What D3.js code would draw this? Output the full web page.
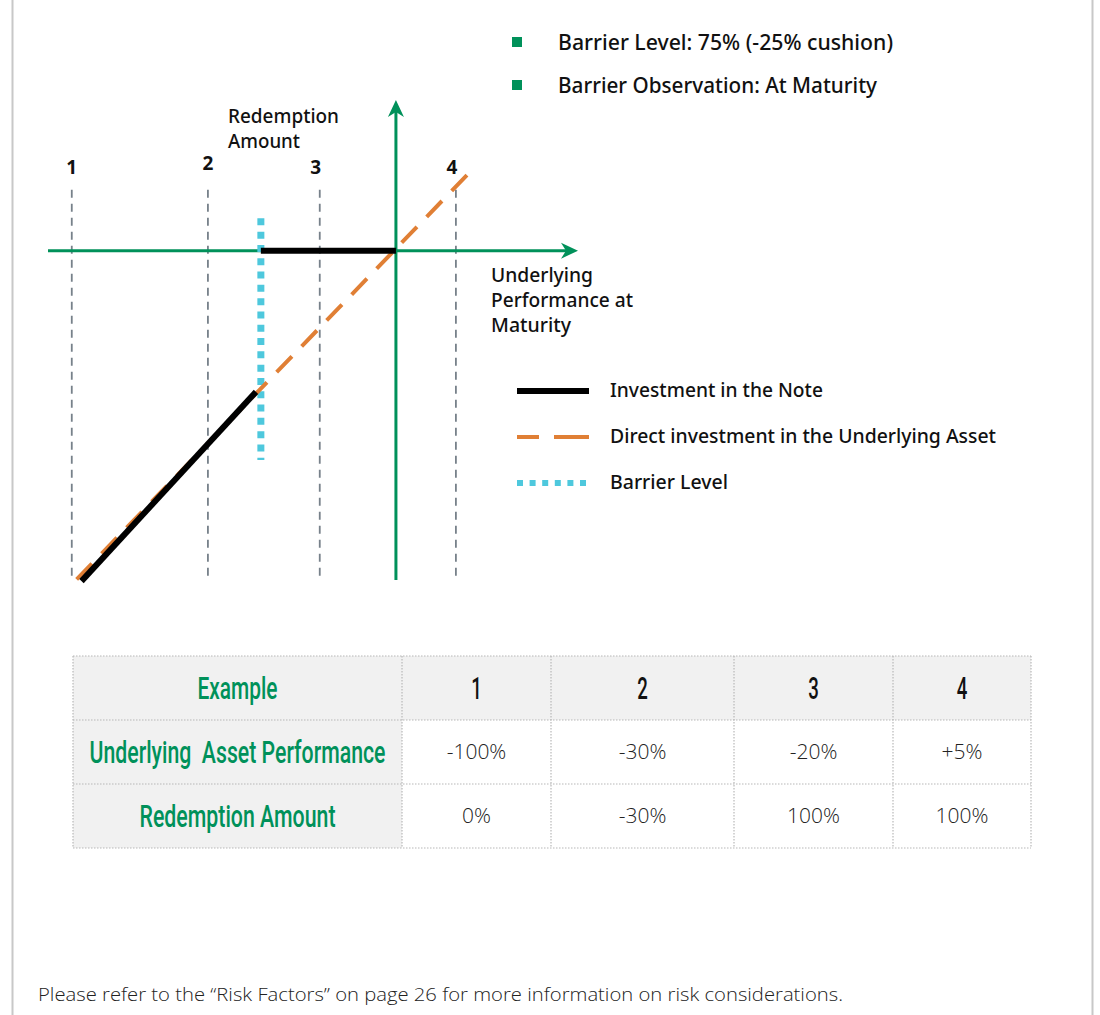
<!DOCTYPE html>
<html>
<head>
<meta charset="utf-8">
<script src="https://cdn.jsdelivr.net/npm/d3@7"></script>
<style>
body { margin: 0; background: #fff; }
svg { display: block; }
</style>
</head>
<body>
<div id="chart"></div>
<script>
// ---------------- data ----------------
var bullets = ["Barrier Level: 75% (-25% cushion)", "Barrier Observation: At Maturity"];
var exampleLabels = ["1", "2", "3", "4"];
var examplePos = [-60, -34.8, -14.1, 11.1];          // schematic spot on the performance axis (%)
var barrierLevel = -25;
var noteLow = [[-58.2, -59.2], [-25.9, -25.3]];      // note payoff below the barrier
var noteFlat = [[-25, 0], [0, 0]];                   // note payoff above the barrier
var directLine = [[-59.1, -58.9], [13.7, 14.1]];     // direct investment
var legendLabels = ["Investment in the Note", "Direct investment in the Underlying Asset", "Barrier Level"];
var tableHeader = ["Example", "1", "2", "3", "4"];
var rowLabels = ["Underlying  Asset Performance", "Redemption Amount"];
var assetPerf = ["-100%", "-30%", "-20%", "+5%"];
var redemption = ["0%", "-30%", "100%", "100%"];
var footnote = "Please refer to the \u201CRisk Factors\u201D on page 26 for more information on risk considerations.";

// ---------------- setup ----------------
var W = 1100, H = 1015;
var green = "#00915a", orange = "#e07f35", cyan = "#4ec8dd", guideGray = "#77818a";
var boldFont = "'Noto Sans', 'Open Sans', sans-serif";
var condFont = "Roboto, 'Noto Sans', sans-serif";
var lightFont = "'Open Sans', 'Noto Sans', sans-serif";

var svg = d3.select("#chart").append("svg")
    .attr("width", W)
    .attr("height", H);

// squeeze text into a measured width
function fit(sel, w) {
    sel.attr("textLength", w).attr("lengthAdjust", "spacingAndGlyphs");
}

// page borders
svg.append("line").attr("x1", 12.5).attr("x2", 12.5).attr("y1", 0).attr("y2", H)
    .attr("stroke", "#c8c8c8").attr("stroke-width", 2);
svg.append("line").attr("x1", 1092.5).attr("x2", 1092.5).attr("y1", 0).attr("y2", H)
    .attr("stroke", "#c8c8c8").attr("stroke-width", 2);

// bullets at the top
var bul = svg.append("g").selectAll("g").data(bullets).enter().append("g")
    .attr("transform", function(d, i) { return "translate(0," + (i * 43) + ")"; });
bul.append("rect").attr("x", 512).attr("y", 37).attr("width", 10).attr("height", 10).attr("fill", green);
bul.append("text").attr("x", 558).attr("y", 50)
    .style("font-family", boldFont).style("font-size", "22px").style("font-weight", 500)
    .attr("fill", "#111")
    .text(function(d) { return d; })
    .each(function(d, i) { fit(d3.select(this), [335, 319][i]); });

// ---------------- diagram ----------------
var x = d3.scaleLinear().domain([-64.4, 33.7]).range([48, 578]);
var y = d3.scaleLinear().domain([-59, 27]).range([580, 100]);
var line = d3.line().x(function(d) { return x(d[0]); }).y(function(d) { return y(d[1]); });

var diag = svg.append("g");

// example guides
diag.selectAll("line.guide").data(examplePos).enter().append("line")
    .attr("class", "guide")
    .attr("x1", function(d) { return x(d); }).attr("x2", function(d) { return x(d); })
    .attr("y1", y(10.9)).attr("y2", y(-58.7))
    .attr("stroke", guideGray).attr("stroke-width", 1.8).attr("stroke-dasharray", "8,6");

diag.selectAll("text.exlabel").data(exampleLabels).enter().append("text")
    .attr("class", "exlabel")
    .attr("x", function(d, i) { return x(examplePos[i]) - (i > 1 ? 4 : 0); })
    .attr("y", function(d, i) { return i === 1 ? 170 : 174; })
    .attr("text-anchor", "middle")
    .style("font-family", boldFont).style("font-size", "19px").style("font-weight", 700)
    .attr("fill", "#111")
    .text(function(d) { return d; });

// axes
diag.append("line").attr("x1", x.range()[0]).attr("x2", x.range()[1] - 6)
    .attr("y1", y(0)).attr("y2", y(0)).attr("stroke", green).attr("stroke-width", 3);
diag.append("line").attr("x1", x(0)).attr("x2", x(0))
    .attr("y1", y.range()[0]).attr("y2", y.range()[1] + 6).attr("stroke", green).attr("stroke-width", 3);
// arrow heads
var xe = x.range()[1], y0 = y(0);
diag.append("path")
    .attr("d", "M" + xe + "," + y0 + " L" + (xe - 17) + "," + (y0 - 8) + " L" + (xe - 12) + "," + y0 + " L" + (xe - 17) + "," + (y0 + 8) + "Z")
    .attr("fill", green);
var ye = y.range()[1], x0 = x(0);
diag.append("path")
    .attr("d", "M" + x0 + "," + ye + " L" + (x0 - 8) + "," + (ye + 17) + " L" + x0 + "," + (ye + 12) + " L" + (x0 + 8) + "," + (ye + 17) + "Z")
    .attr("fill", green);

// barrier
diag.append("line")
    .attr("x1", x(barrierLevel)).attr("x2", x(barrierLevel))
    .attr("y1", y(5.8)).attr("y2", y(-37.5))
    .attr("stroke", cyan).attr("stroke-width", 7).attr("stroke-dasharray", "7,6.3");

// direct investment
diag.append("path").attr("d", line(directLine))
    .attr("fill", "none").attr("stroke", orange).attr("stroke-width", 4)
    .attr("stroke-dasharray", "22,14");

// note payoff
[noteLow, noteFlat].forEach(function(seg) {
    diag.append("path").attr("d", line(seg))
        .attr("fill", "none").attr("stroke", "#000").attr("stroke-width", 6);
});

// axis titles
var axisText = function(lines, xx, yy, widths) {
    diag.selectAll(null).data(lines).enter().append("text")
        .attr("x", xx).attr("y", function(d, i) { return yy + i * 25; })
        .style("font-family", boldFont).style("font-size", "19px").style("font-weight", 500)
        .attr("fill", "#111")
        .text(function(d) { return d; })
        .each(function(d, i) { fit(d3.select(this), widths[i]); });
};
axisText(["Redemption", "Amount"], 228, 123, [111, 72]);
axisText(["Underlying", "Performance at", "Maturity"], 491, 282, [102, 142, 80]);

// legend
var leg = svg.append("g").selectAll("g").data(legendLabels).enter().append("g")
    .attr("transform", function(d, i) { return "translate(0," + (391 + i * 46) + ")"; });
leg.append("line").attr("x1", 517).attr("x2", 589).attr("y1", 0).attr("y2", 0)
    .attr("stroke", function(d, i) { return ["#000", orange, cyan][i]; })
    .attr("stroke-width", function(d, i) { return [6, 4, 6][i]; })
    .attr("stroke-dasharray", function(d, i) { return [null, "22,15,40", "6,6.6"][i]; });
leg.append("text").attr("x", 610).attr("y", 6)
    .style("font-family", boldFont).style("font-size", "19px").style("font-weight", 500)
    .attr("fill", "#111")
    .text(function(d) { return d; })
    .each(function(d, i) { fit(d3.select(this), [213, 386, 118][i]); });

// ---------------- table ----------------
var colEdges = [73, 402, 551, 734, 893, 1031];
var rowEdges = [656, 720, 784, 848];
var labelWidths = [80, 296, 196];       // measured widths of the condensed first-column labels
var rows = [tableHeader, [rowLabels[0]].concat(assetPerf), [rowLabels[1]].concat(redemption)];

var table = svg.append("g");
rows.forEach(function(row, r) {
    row.forEach(function(cell, c) {
        var shaded = r === 0 || c === 0;
        table.append("rect")
            .attr("x", colEdges[c]).attr("y", rowEdges[r])
            .attr("width", colEdges[c + 1] - colEdges[c]).attr("height", rowEdges[r + 1] - rowEdges[r])
            .attr("fill", shaded ? "#f1f1f1" : "#fff");
        var cx = (colEdges[c] + colEdges[c + 1]) / 2;
        var cy = (rowEdges[r] + rowEdges[r + 1]) / 2;
        if (c === 0 || r === 0) {
            // condensed look: scale the glyphs horizontally
            var t = table.append("text").attr("x", 0).attr("y", 0).attr("text-anchor", "middle")
                .style("white-space", "pre")
                .style("font-family", condFont).style("font-size", "31px").style("font-weight", 500)
                .attr("fill", c === 0 ? green : "#111")
                .text(cell);
            var natural = t.node().getComputedTextLength();
            var sx = c === 0 ? labelWidths[r] / natural : 0.6;
            t.attr("transform", "translate(" + cx + "," + (cy + 11) + ") scale(" + sx + ",1)");
        } else {
            table.append("text").attr("x", cx).attr("y", cy + 7).attr("text-anchor", "middle")
                .style("font-family", lightFont).style("font-size", "21px").style("font-weight", 300)
                .attr("fill", "#222")
                .text(cell);
        }
    });
});
// dotted grid
colEdges.forEach(function(cx) {
    table.append("line").attr("x1", cx).attr("x2", cx)
        .attr("y1", rowEdges[0]).attr("y2", rowEdges[rowEdges.length - 1])
        .attr("stroke", "#b8b8b8").attr("stroke-width", 1.2).attr("stroke-dasharray", "1.5,1.5");
});
rowEdges.forEach(function(ry) {
    table.append("line").attr("x1", colEdges[0]).attr("x2", colEdges[colEdges.length - 1])
        .attr("y1", ry).attr("y2", ry)
        .attr("stroke", "#b8b8b8").attr("stroke-width", 1.2).attr("stroke-dasharray", "1.5,1.5");
});

// footnote
svg.append("text").attr("x", 38).attr("y", 1001)
    .style("font-family", lightFont).style("font-size", "18px").style("font-weight", 300)
    .attr("fill", "#222")
    .text(footnote)
    .call(fit, 805);
</script>
</body>
</html>
